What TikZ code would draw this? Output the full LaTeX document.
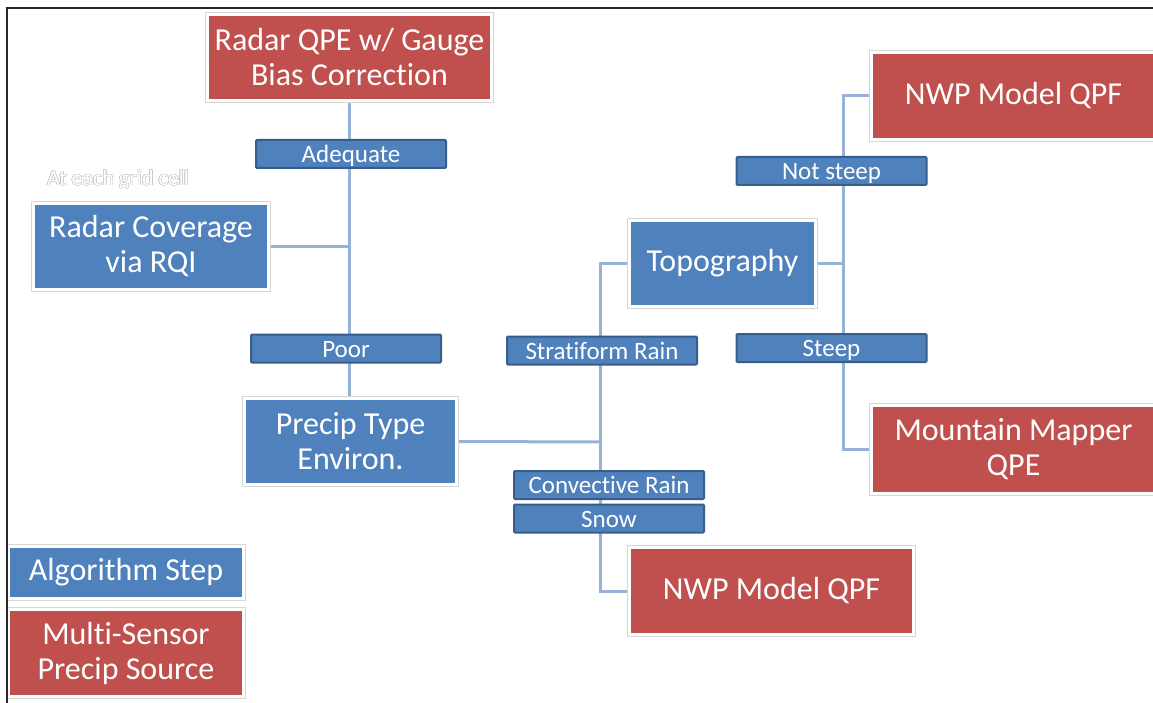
\documentclass[tikz,border=0pt]{standalone}
\usepackage{fontspec}
\setmainfont{Carlito}[Ligatures=NoCommon]
\usepackage{contour}
\contourlength{0.45pt}
\contournumber{32}
\usetikzlibrary{backgrounds}
\definecolor{stepblue}{RGB}{79,129,189}
\definecolor{srcred}{RGB}{192,80,77}
\definecolor{tagedge}{RGB}{56,93,138}
\definecolor{linkblue}{RGB}{149,179,215}
\begin{document}
\begin{tikzpicture}[x=1pt,y=-1pt,
  bigbox/.style={draw=white, line width=3pt,
    preaction={draw=black!16, line width=5pt},
    text=white, align=center, inner sep=0pt,
    font=\fontsize{32}{35}\selectfont},
  stepnode/.style={bigbox, fill=stepblue},
  srcnode/.style={bigbox, fill=srcred},
  tag/.style={draw=tagedge, line width=2pt, fill=stepblue, text=white,
    font=\fontsize{25}{28}\selectfont, inner sep=0pt,
    text height=21pt, text depth=4pt,
    minimum width=190pt, minimum height=28pt, rounded corners=1pt},
  link/.style={draw=linkblue, line width=3pt}]

\useasboundingbox (0,0) rectangle (1153,703);

% decision steps and precipitation sources
\node[srcnode,  minimum width=284, minimum height=86] (qpe)   at (349.5,57.5)  {Radar QPE w/ Gauge\\Bias Correction};
\node[stepnode, minimum width=235, minimum height=86] (cov)   at (151,246.5)   {Radar Coverage\\via RQI};
\node[stepnode, minimum width=212, minimum height=86] (ptype) at (350.5,441.5) {Precip Type\\Environ.};
\node[stepnode, minimum width=186, minimum height=86] (topo)  at (722.5,263.5) {Topography};
\node[srcnode,  minimum width=284, minimum height=87] (nwpa)  at (1013.5,96)   {NWP Model QPF};
\node[srcnode,  minimum width=284, minimum height=88] (mm)    at (1013.5,449.5){Mountain Mapper\\QPE};
\node[srcnode,  minimum width=284, minimum height=87] (nwpb)  at (771.5,591)   {NWP Model QPF};

% legend
\node[stepnode, minimum width=235, minimum height=52] (alg) at (126,572.5) {Algorithm Step};
\node[srcnode,  minimum width=235, minimum height=87] (ms)  at (126,653)   {Multi-Sensor\\Precip Source};

% note
\node[font=\fontsize{22}{24}\selectfont, inner sep=0pt] (note) at (118,180)
  {\contour{black!22}{\textcolor{white}{At each grid cell}}};

% branch labels
\node[tag] (adeq)  at (351,154)    {Adequate};
\node[tag] (poor)  at (346,348.5)  {Poor};
\node[tag] (strat) at (602,350.5)  {Stratiform Rain};
\node[tag] (nst)   at (831.5,171)  {Not steep};
\node[tag] (stp)   at (831.5,348)  {Steep};
\node[tag] (conv)  at (609,485)    {Convective Rain};
\node[tag] (snow)  at (609,518.5)  {Snow};

% connectors
\coordinate (jp) at (600,442);
\coordinate (jt) at (843,263.5);
\begin{scope}[on background layer]
  \draw[link] (qpe.south) -- (qpe.south |- ptype.north);
  \draw[link] (cov.east) -- (cov.east -| qpe.south);
  \draw[link] (ptype.east) -- (jp);
  \draw[link] (topo.west) -- (topo.west -| jp) -- (nwpb.west -| jp) -- (nwpb.west);
  \draw[link] (topo.east) -- (jt);
  \draw[link] (nwpa.west) -- (nwpa.west -| jt) -- (mm.west -| jt) -- (mm.west);
\end{scope}

% page frame
\draw[line width=2pt, black!85] (7,703) -- (7,8) -- (1153,8);
\end{tikzpicture}
\end{document}
